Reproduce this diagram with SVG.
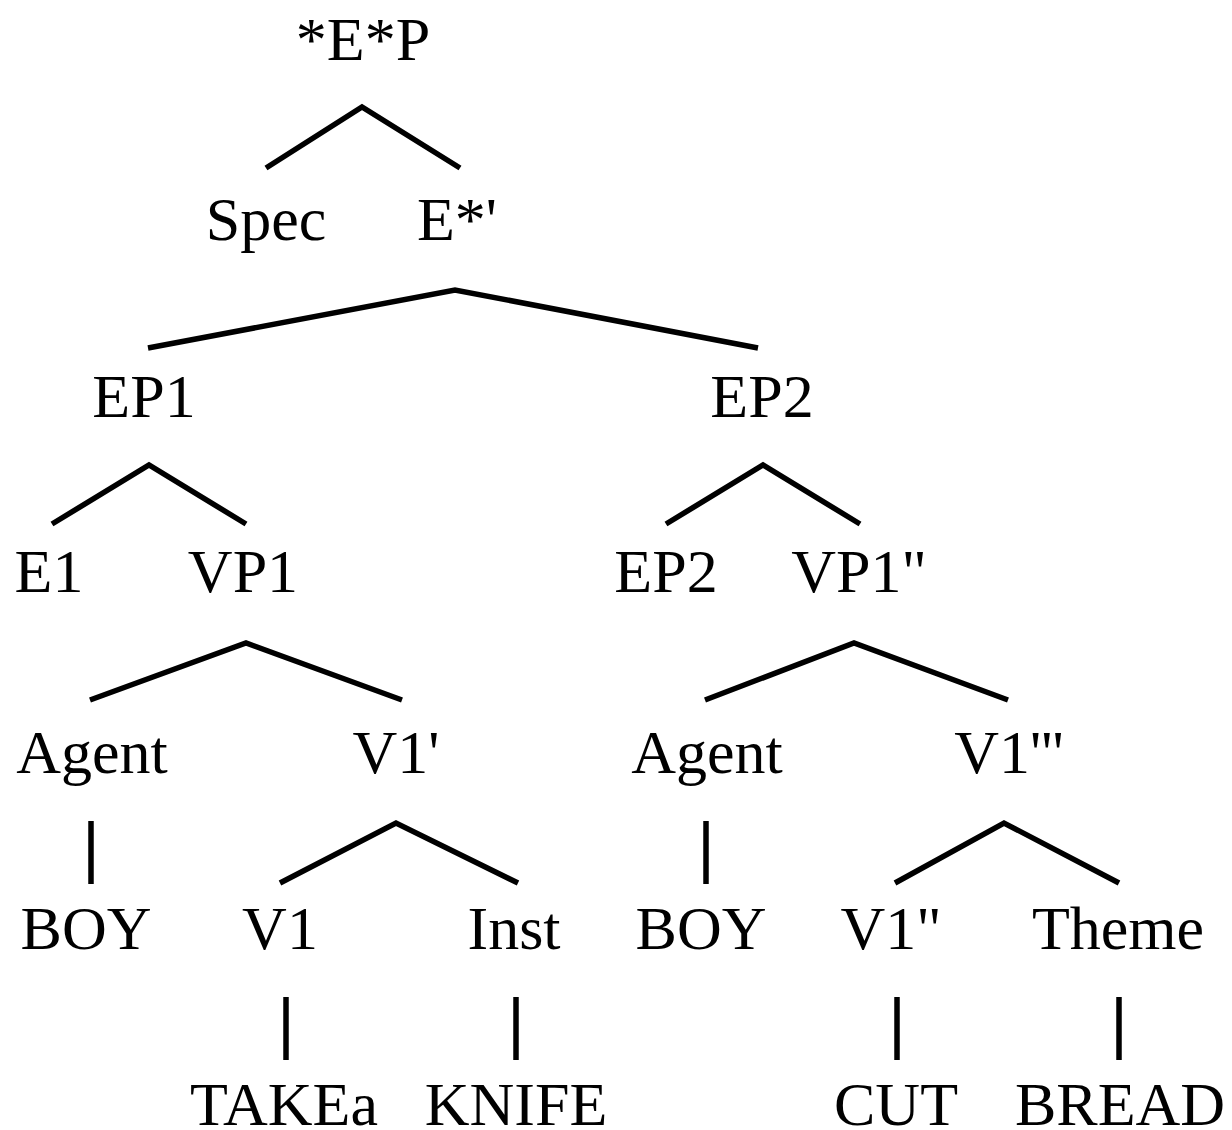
<svg xmlns="http://www.w3.org/2000/svg" width="1232" height="1130" viewBox="0 0 1232 1130">
  <style>
    text { font-family: "Liberation Serif", "Times New Roman", serif; font-size: 62px; fill: #000; text-anchor: middle; }
    .edge { fill: none; stroke: #000; stroke-width: 5.5; stroke-linejoin: miter; }
  </style>
  <rect width="1232" height="1130" fill="#fff"/>

  <!-- branches of the tree -->
  <g id="connectors">
    <polyline class="edge" points="266,168 362,107 460,168"/>
    <polyline class="edge" points="148,348 455,290 758,348"/>
    <polyline class="edge" points="52,524 149,465 246,524"/>
    <polyline class="edge" points="666,524 763,465 860,524"/>
    <polyline class="edge" points="90,700 246,643 402,700"/>
    <polyline class="edge" points="705,700 854,643 1008,700"/>
    <polyline class="edge" points="280,883 396,823 518,883"/>
    <polyline class="edge" points="895,883 1004,823 1119,883"/>
    <line class="edge" x1="91" y1="821" x2="91" y2="884"/>
    <line class="edge" x1="706" y1="821" x2="706" y2="884"/>
    <line class="edge" x1="286" y1="997" x2="286" y2="1060"/>
    <line class="edge" x1="516" y1="997" x2="516" y2="1060"/>
    <line class="edge" x1="897" y1="997" x2="897" y2="1060"/>
    <line class="edge" x1="1119" y1="997" x2="1119" y2="1060"/>
  </g>

  <!-- node labels -->
  <g id="n-root"><text x="363" y="60">*E*P</text></g>
  <g id="n-spec"><text x="266" y="240">Spec</text></g>
  <g id="n-ebar"><text x="457" y="240">E*'</text></g>
  <g id="n-ep1"><text x="144" y="417">EP1</text></g>
  <g id="n-ep2"><text x="762" y="417">EP2</text></g>
  <g id="n-e1"><text x="49" y="592">E1</text></g>
  <g id="n-vp1"><text x="243" y="592">VP1</text></g>
  <g id="n-ep2b"><text x="666" y="592">EP2</text></g>
  <g id="n-vp1pp"><text x="859" y="592">VP1"</text></g>
  <g id="n-agent1"><text x="92" y="773">Agent</text></g>
  <g id="n-v1p"><text x="396" y="773">V1'</text></g>
  <g id="n-agent2"><text x="707" y="773">Agent</text></g>
  <g id="n-v1ppp"><text x="1009" y="773">V1'''</text></g>
  <g id="n-boy1"><text x="86" y="949">BOY</text></g>
  <g id="n-v1"><text x="280" y="949">V1</text></g>
  <g id="n-inst"><text x="514" y="949">Inst</text></g>
  <g id="n-boy2"><text x="701" y="949">BOY</text></g>
  <g id="n-v1pp"><text x="891" y="949">V1"</text></g>
  <g id="n-theme"><text x="1118" y="949">Theme</text></g>
  <g id="n-takea"><text x="284" y="1125">TAKEa</text></g>
  <g id="n-knife"><text x="516" y="1125">KNIFE</text></g>
  <g id="n-cut"><text x="896" y="1125">CUT</text></g>
  <g id="n-bread"><text x="1120" y="1125">BREAD</text></g>
</svg>
